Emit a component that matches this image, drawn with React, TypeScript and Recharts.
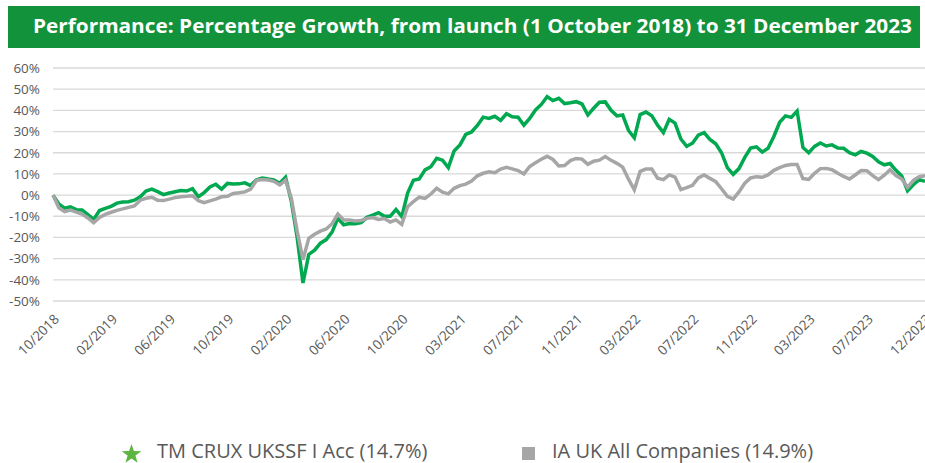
import { LineChart, Line, XAxis, YAxis, CartesianGrid, Legend } from 'recharts'

// tick labels along the bottom, one every 10 points
const xLabels = [
  '10/2018', '02/2019', '06/2019', '10/2019', '02/2020', '06/2020', '10/2020', '03/2021',
  '07/2021', '11/2021', '03/2022', '07/2022', '11/2022', '03/2023', '07/2023', '12/2023',
]

const yTicks = [-50, -40, -30, -20, -10, 0, 10, 20, 30, 40, 50, 60]

// TM CRUX UKSSF I Acc, cumulative % growth
const cruxGrowth = [
  0, -4.2, -6.2, -5.6, -6.9, -7, -9.2, -11.5, -7.3, -6.3,
  -5.3, -3.8, -3.3, -3.1, -2.4, -0.8, 1.9, 2.8, 1.6, 0.2,
  1, 1.6, 2.2, 1.9, 3, -0.8, 1.2, 3.8, 5.1, 2.8,
  5.5, 5.2, 5.3, 5.8, 4.5, 7.2, 8.1, 7.6, 7.2, 5.6,
  8.4, -3, -20, -41.5, -28, -26, -22.7, -21, -17.5, -11,
  -14, -13.4, -13.5, -13, -10.5, -9.4, -8.3, -10, -10, -6.8,
  -10.2, 1, 7, 7.6, 11.9, 13.4, 17.4, 16.5, 13, 20.8,
  23.7, 28.7, 29.8, 32.9, 36.8, 36.2, 37.2, 35.3, 38.4, 37,
  36.8, 33, 36.2, 40.2, 42.8, 46.5, 44.6, 45.7, 43.2, 43.6,
  44.1, 43, 37.8, 41, 43.8, 44, 40, 37.4, 37.8, 30.5,
  27, 38, 39.2, 37.5, 33, 29.5, 35.8, 34, 26.5, 23,
  24.5, 28.3, 29.5, 26.3, 24.2, 20, 13, 9.8, 12.5, 17.8,
  22.2, 22.8, 20.3, 22.1, 27.7, 34.4, 37.4, 36.7, 39.7, 22.5,
  20, 23, 24.6, 23.2, 23.7, 22.2, 22.1, 20, 19, 20.6,
  19.8, 18.2, 15.7, 14.3, 14.9, 11.7, 9, 2, 4.9, 7.3,
  6.5,
]

// IA UK All Companies sector, cumulative % growth
const sectorGrowth = [
  0, -6, -7.8, -7.1, -8, -9, -10.8, -13, -10.6, -9.1,
  -8.1, -7.2, -6.5, -5.8, -5.1, -2.4, -1.5, -1, -2.4, -2.6,
  -1.9, -1.2, -0.8, -0.6, -0.3, -2.6, -3.6, -2.7, -1.9, -0.8,
  -0.6, 0.8, 1.1, 1.5, 2.8, 6.9, 7.3, 7.1, 6.5, 4.8,
  7, -1.5, -17, -30.5, -20.4, -18.5, -17, -16, -13.5, -9,
  -11.8, -11.8, -12.2, -12, -11, -10.6, -11.5, -11.1, -12.7, -11.7,
  -13.8, -5.5, -3.1, -1, -1.6, 0.5, 3.2, 1.4, 0.6, 3.2,
  4.5, 5.2, 6.6, 9.1, 10.3, 11, 10.6, 12.3, 13.1, 12.4,
  11.6, 10, 13.5, 15.3, 16.9, 18.3, 16.8, 13.8, 13.9, 16.3,
  17.3, 17, 14.5, 16, 16.5, 18.2, 16.4, 15, 13.2, 7.5,
  2.5, 11.2, 12.3, 12.3, 8, 7.3, 9.5, 8.5, 2.6, 3.5,
  4.6, 8.1, 9.5, 7.9, 6.4, 3, -0.6, -1.9, 1.5, 5.6,
  8.1, 8.7, 8.4, 9.5, 11.7, 13, 14, 14.4, 14.4, 7.8,
  7.4, 10.3, 12.5, 12.6, 12, 10.3, 8.8, 7.6, 9.5, 11.6,
  11.5, 9.2, 7.3, 9.4, 12, 9.2, 7.6, 3.7, 7, 8.7,
  9.2,
]

const seriesNames = ['TM CRUX UKSSF I Acc (14.7%)', 'IA UK All Companies (14.9%)']

const data = cruxGrowth.map((v, i) => ({ i, crux: v, sector: sectorGrowth[i] }))
const xTicks = xLabels.map((_, k) => k * 10)

const FONT = '"Open Sans", sans-serif'
const GREEN = '#00a84f'
const GREY = '#a6a6a6'

const DateTick = ({ x, y, payload }: any) => {
  const tx = x + 7
  const ty = y + 19
  return (
    <text
      x={tx}
      y={ty}
      transform={`rotate(-45 ${tx} ${ty})`}
      textAnchor="end"
      fill="#595959"
      fontSize={13.5}
      fontFamily={FONT}
    >
      {xLabels[Math.round(payload.value / 10)]}
    </text>
  )
}

const renderLegend = () => (
  <div style={{ position: 'relative', width: 925, height: 30, fontFamily: FONT, fontSize: 20, color: '#595959' }}>
    <svg width={21} height={20} style={{ position: 'absolute', left: 121, top: 11 }}>
      <path
        d="M10.5 0 L12.9 7.1 L20.4 7.2 L14.4 11.6 L16.6 18.8 L10.5 14.5 L4.4 18.8 L6.6 11.6 L0.6 7.2 L8.1 7.1 Z"
        fill="#5db542"
      />
    </svg>
    <span style={{ position: 'absolute', left: 157, top: 4, whiteSpace: 'nowrap' }}>{seriesNames[0]}</span>
    <div style={{ position: 'absolute', left: 522, top: 14, width: 13, height: 13, background: GREY }} />
    <span style={{ position: 'absolute', left: 552, top: 4, whiteSpace: 'nowrap' }}>{seriesNames[1]}</span>
  </div>
)

export default function App() {
  return (
    <div style={{ position: 'absolute', left: 0, top: 0, width: 925, height: 463, background: '#fff', overflow: 'hidden' }}>
      <svg width={925} height={50} style={{ position: 'absolute', left: 0, top: 0 }}>
        <rect x={8} y={6} width={912} height={42} fill="#12923a" />
        <text
          x={33}
          y={33}
          fill="#fff"
          fontFamily={FONT}
          fontWeight={700}
          fontSize={19}
          textLength={879}
          lengthAdjust="spacingAndGlyphs"
        >
          Performance: Percentage Growth, from launch (1 October 2018) to 31 December 2023
        </text>
      </svg>
      <LineChart
        width={925}
        height={463}
        data={data}
        margin={{ top: 68, right: 0, bottom: 0, left: 0 }}
        style={{ position: 'absolute', left: 0, top: 0 }}
      >
        <CartesianGrid vertical={false} stroke="#d9d9d9" strokeWidth={1.3} />
        <XAxis
          type="number"
          dataKey="i"
          domain={[0, 150]}
          ticks={xTicks}
          interval={0}
          height={132}
          axisLine={false}
          tickLine={false}
          tickSize={0}
          tickMargin={0}
          tick={<DateTick />}
        />
        <YAxis
          type="number"
          domain={[-50, 60]}
          ticks={yTicks}
          interval={0}
          width={53}
          axisLine={false}
          tickLine={false}
          tickSize={0}
          tickMargin={13}
          tickFormatter={(v) => `${v}%`}
          tick={{ fontSize: 13.5, fill: '#595959', fontFamily: FONT }}
        />
        <Legend verticalAlign="bottom" content={renderLegend} />
        <Line
          type="linear"
          dataKey="crux"
          stroke={GREEN}
          strokeWidth={3.5}
          dot={false}
          isAnimationActive={false}
        />
        <Line
          type="linear"
          dataKey="sector"
          stroke={GREY}
          strokeWidth={3.5}
          dot={false}
          isAnimationActive={false}
        />
      </LineChart>
    </div>
  )
}
